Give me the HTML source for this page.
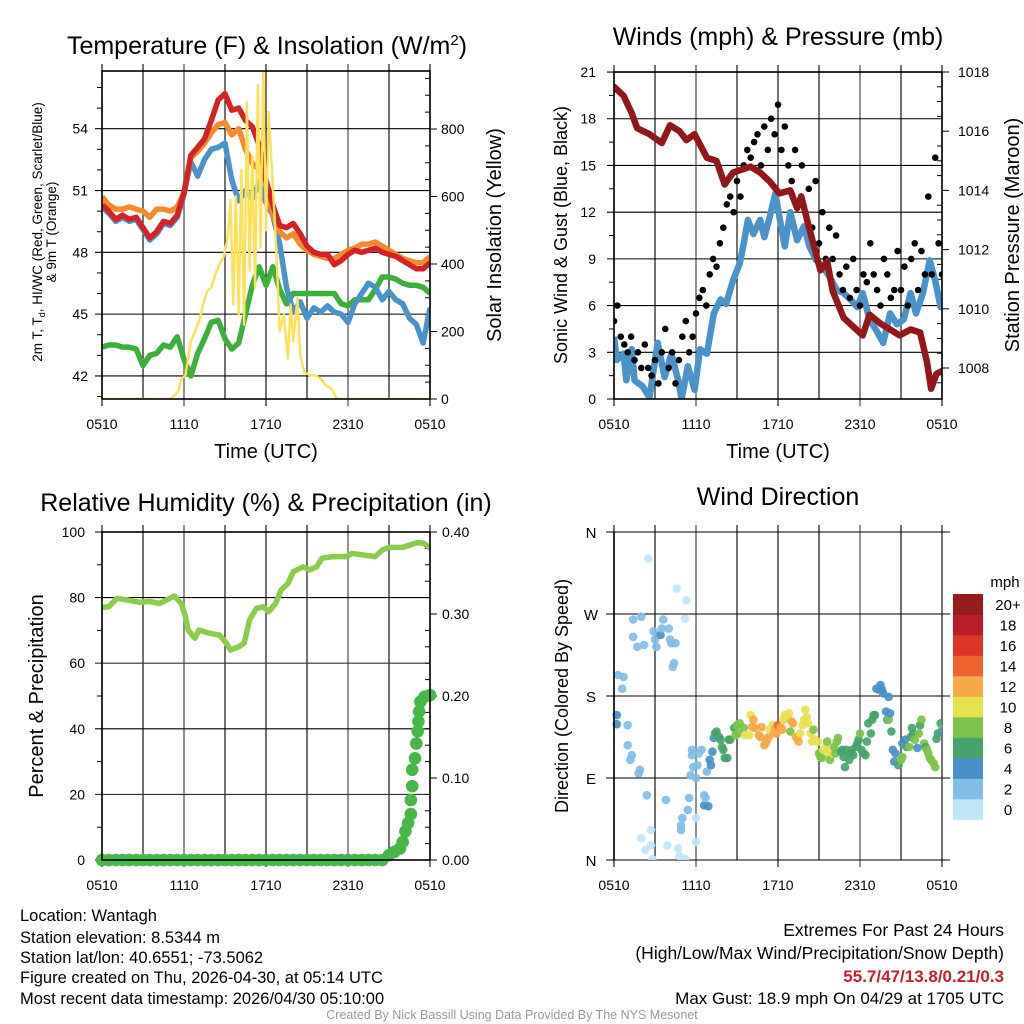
<!DOCTYPE html>
<html><head><meta charset="utf-8"><title>Weather station summary</title>
<style>
html,body{margin:0;padding:0;background:#fff;}
svg{display:block;font-family:"Liberation Sans",Arial,sans-serif;}
</style></head>
<body>
<svg id="fig" width="1024" height="1024" viewBox="0 0 1024 1024" xmlns="http://www.w3.org/2000/svg">
<defs>
<clipPath id="c1"><rect x="102" y="71" width="328" height="328"/></clipPath>
<clipPath id="c2"><rect x="614" y="72" width="328" height="327"/></clipPath>
<clipPath id="c3"><rect x="102" y="532" width="328" height="328"/></clipPath>
<clipPath id="c4"><rect x="612" y="532" width="330" height="328"/></clipPath>
</defs>
<g id="p1"></g>
<g id="p2"></g>
<g id="p3"></g>
<g id="p4"></g>
<g id="txt">
<text x="267" y="54" font-size="25" text-anchor="middle">Temperature (F) &amp; Insolation (W/m<tspan dy="-9" font-size="15">2</tspan><tspan dy="9">)</tspan></text>
<text x="778" y="45" font-size="25" text-anchor="middle">Winds (mph) &amp; Pressure (mb)</text>
<text x="266" y="511" font-size="25" text-anchor="middle">Relative Humidity (%) &amp; Precipitation (in)</text>
<text x="778" y="505" font-size="25" text-anchor="middle">Wind Direction</text>
<text x="266" y="458" font-size="20" text-anchor="middle">Time (UTC)</text>
<text x="778" y="458" font-size="20" text-anchor="middle">Time (UTC)</text>
<text transform="translate(42,232) rotate(-90)" font-size="13.5" text-anchor="middle">2m T, T<tspan dy="3" font-size="9">d</tspan><tspan dy="-3">, HI/WC (Red, Green, Scarlet/Blue)</tspan></text>
<text transform="translate(56,232) rotate(-90)" font-size="13.5" text-anchor="middle">&amp; 9m T (Orange)</text>
<text transform="translate(501,235) rotate(-90)" font-size="20" text-anchor="middle">Solar Insolation (Yellow)</text>
<text transform="translate(567,235) rotate(-90)" font-size="18" text-anchor="middle">Sonic Wind &amp; Gust (Blue, Black)</text>
<text transform="translate(1019,235) rotate(-90)" font-size="20" text-anchor="middle">Station Pressure (Maroon)</text>
<text transform="translate(43,696) rotate(-90)" font-size="20" text-anchor="middle">Percent &amp; Precipitation</text>
<text transform="translate(568,696) rotate(-90)" font-size="18" text-anchor="middle">Direction (Colored By Speed)</text>
<text x="20" y="921" font-size="16.5">Location: Wantagh</text>
<text x="20" y="943" font-size="16.5">Station elevation: 8.5344 m</text>
<text x="20" y="963" font-size="16.5">Station lat/lon: 40.6551; -73.5062</text>
<text x="20" y="983" font-size="16.5">Figure created on Thu, 2026-04-30, at 05:14 UTC</text>
<text x="20" y="1004" font-size="16.5">Most recent data timestamp: 2026/04/30 05:10:00</text>
<text x="1004" y="936" font-size="17.5" text-anchor="end">Extremes For Past 24 Hours</text>
<text x="1004" y="959" font-size="17.5" text-anchor="end">(High/Low/Max Wind/Precipitation/Snow Depth)</text>
<text x="1004" y="982" font-size="17" font-weight="bold" fill="#c8202a" text-anchor="end">55.7/47/13.8/0.21/0.3</text>
<text x="1004" y="1004" font-size="17" text-anchor="end">Max Gust: 18.9 mph On 04/29 at 1705 UTC</text>
<text x="512" y="1019" font-size="12.5" fill="#999" text-anchor="middle">Created By Nick Bassill Using Data Provided By The NYS Mesonet</text>
</g>
</svg>
<script>
// ---------- data ----------
const xTickLabels = ["0510","1110","1710","2310","0510"];
const tempHours = [0,0.5,1,1.5,2,2.5,3,3.5,4,4.5,5,5.5,6,6.5,7,7.5,8,8.5,9,9.5,10,10.5,11,11.5,12,12.5,13,13.5,14,14.5,15,15.5,16,16.5,17,17.5,18,18.5,19,19.5,20,20.5,21,21.5,22,22.5,23,23.5,24];
const tempRed = [50.3,50.0,49.6,49.8,49.6,49.7,49.2,48.7,49.0,49.5,49.4,49.8,50.9,52.7,53.1,53.5,54.4,55.4,55.7,54.9,55.0,54.4,54.1,53.2,51.5,50.3,49.3,49.2,49.4,48.9,48.3,48.0,47.9,47.9,47.4,47.6,47.9,48.1,48.0,48.1,48.2,48.0,47.9,47.8,47.6,47.4,47.2,47.2,47.5];
const temp9m = [50.7,50.3,50.1,50.1,50.2,50.1,50.0,49.7,50.1,50.1,50.0,50.2,50.9,52.6,52.9,53.3,53.8,54.2,54.3,53.7,54.0,53.0,52.3,52.0,51.3,49.8,49.0,48.7,48.9,48.4,48.1,47.9,47.8,47.7,47.7,47.9,48.1,48.2,48.4,48.4,48.5,48.3,48.1,47.9,47.7,47.6,47.5,47.5,47.8];
const tempHiWc = [50.2,49.9,49.5,49.7,49.5,49.6,49.1,48.6,48.9,49.4,49.3,49.7,50.8,52.4,51.7,52.5,53.0,53.1,53.3,51.5,50.5,51.0,50.6,51.4,50.4,49.8,48.4,46.3,45.1,45.6,44.8,45.3,45.1,45.4,45.1,45.0,44.6,45.5,46.0,46.5,46.3,45.7,46.1,45.7,45.5,44.8,44.5,43.6,45.3];
const dewpoint = [43.4,43.5,43.5,43.4,43.4,43.3,42.5,43.0,43.1,43.5,43.4,43.9,42.8,42.0,43.1,43.8,44.6,44.7,43.8,43.3,43.6,45.0,46.4,47.3,46.4,47.3,46.2,45.5,46.0,46.0,46.0,46.0,46.0,46.0,46.0,45.5,45.4,45.7,45.7,45.7,46.2,46.8,46.8,46.7,46.5,46.4,46.4,46.3,46.0];
const solarHours = [0,5.0,5.3,5.6,5.8,6.1,6.3,6.5,6.8,7.1,7.4,7.7,8.0,8.3,8.6,8.9,9.2,9.4,9.6,9.8,10.0,10.2,10.4,10.6,10.8,11.0,11.2,11.4,11.6,11.8,12.0,12.2,12.4,12.6,12.8,13.0,13.3,13.6,13.8,14.0,14.3,14.5,14.8,15.2,15.6,16.0,16.4,16.8,17.2,24];
const solar = [0,0,10,25,60,70,120,170,200,230,280,320,330,370,400,420,480,590,280,600,250,680,220,880,380,720,330,930,450,990,500,850,700,560,400,200,250,120,280,170,300,130,80,70,70,60,40,30,0,0];
const tempTicks = [42,45,48,51,54];
const solarTicks = [0,200,400,600,800];

const windHours = [0,0.2,0.7,0.9,1.3,1.5,2.1,2.6,3.2,3.7,4.2,4.7,4.95,5.4,5.9,6.3,6.8,7.3,7.8,8.2,8.7,9.2,9.5,9.8,10.2,10.7,11.0,11.4,11.8,12.1,12.5,12.9,13.4,13.9,14.3,14.8,15.3,15.8,16.3,16.8,17.3,17.8,18.2,18.7,19.2,19.7,20.2,20.7,21.2,21.7,22.1,22.6,23.1,23.5,23.9,24];
const windSpeed = [4.0,2.5,2.9,1.2,3.2,1.2,0.8,0.1,3.6,1.4,2.9,1.2,0,2.1,0.6,3.2,2.9,5.5,6.4,6.1,7.6,8.7,10.0,11.5,10.6,11.5,10.4,11.7,13.2,11.7,9.8,12.0,10.2,11.1,9.8,8.9,8.5,7.8,7.0,6.8,6.4,5.9,6.8,5.1,4.4,3.6,5.5,4.8,5.1,6.8,5.5,6.8,8.9,7.6,5.9,6.0];
const gustStep = 0.25;
const gusts = [5,6,4,3.5, 3,4,2.5,3, 2,3.5,2,1.5, 2.5,1,3,4.5, 2,3,1,2.5, 4,5,3,4, 5.5,6.5,7,6, 8,9,8.5,10, 11,12.5,13,12, 14,13,15,16, 15.5,16.5,17,15, 17.5,16,18,17, 18.9,16,17.5,15, 14,16,12.5,15, 12,13.5,11,14, 10,12,9,11, 9,10.5,8,7, 8.5,6.5,9,7, 6,8,7.5,10, 8,7,6,9, 8,6.5,7,9.5, 7,8.5,6,9, 10,7,9.5,8, 13,8,15.5,10, 8];
const pressHours = [0,0.7,1.3,1.7,2.6,3.5,4.1,4.8,5.3,5.9,6.8,7.5,8.1,8.7,10.0,10.7,11.4,12.1,12.9,13.4,13.7,14.3,15.1,15.6,16.0,16.8,17.5,18.2,18.7,19.5,20.2,20.9,21.7,22.4,22.9,23.2,23.6,24];
const pressure = [1017.5,1017.2,1016.6,1016.1,1015.9,1015.6,1016.2,1016.0,1015.7,1015.9,1015.1,1015.0,1014.2,1014.6,1014.8,1014.6,1014.3,1013.9,1014.0,1013.4,1013.8,1012.7,1011.3,1011.6,1010.6,1009.7,1009.4,1009.1,1009.8,1009.5,1009.3,1009.1,1009.3,1009.2,1008.2,1007.3,1007.8,1007.9];
const windTicks = [0,3,6,9,12,15,18,21];
const pressTicks = [1008,1010,1012,1014,1016,1018];

const rhHours = [0,0.5,1.1,1.8,2.7,3.5,4.2,5.3,5.8,6.1,6.3,6.8,7.1,7.9,8.6,9.1,9.4,10.0,10.4,10.8,11.3,11.8,12.2,12.7,13.1,13.6,14.0,14.7,15.2,15.7,16.1,16.9,17.9,18.3,19.1,20.0,20.5,21.0,22.0,22.5,23.1,23.6,24.0];
const rh = [77.0,77.2,79.8,79.3,78.6,78.8,78.2,80.5,78.2,74.2,70.1,67.6,70.1,69.1,68.6,66.1,64.0,65.0,66.1,73.2,76.7,77.2,75.7,78.2,82.3,84.3,87.9,89.4,88.4,89.4,92.0,92.5,92.5,93.5,93.0,92.5,94.5,95.3,95.3,96.0,96.8,96.5,95.0];
const precipHours = [0,0.5,1,1.5,2,2.5,3,3.5,4,4.5,5,5.5,6,6.5,7,7.5,8,8.5,9,9.5,10,10.5,11,11.5,12,12.5,13,13.5,14,14.5,15,15.5,16,16.5,17,17.5,18,18.5,19,19.5,20,20.5,21.0,21.4,21.8,22.0,22.2,22.4,22.6,22.6,22.7,22.7,22.9,23.0,23.1,23.15,23.2,23.3,23.6,24.0];
const precip = [0,0,0,0,0,0,0,0,0,0,0,0,0,0,0,0,0,0,0,0,0,0,0,0,0,0,0,0,0,0,0,0,0,0,0,0,0,0,0,0,0,0,0.006,0.01,0.014,0.022,0.035,0.045,0.056,0.073,0.09,0.11,0.124,0.142,0.157,0.169,0.181,0.193,0.199,0.201];
const rhTicks = [0,20,40,60,80,100];
const precipTicks = ["0.00","0.10","0.20","0.30","0.40"];

const dirHours = [0.2,0.2,0.3,0.7,0.6,1.0,1.0,1.2,1.3,1.4,1.4,1.7,1.9,1.8,2.0,2.2,2.4,2.5,2.0,2.3,2.7,2.7,2.8,2.9,3.0,3.1,3.4,3.5,3.6,3.8,3.9,4.0,4.1,4.2,4.4,4.3,4.5,4.6,4.7,4.8,4.9,4.9,5.0,5.2,5.2,5.3,5.4,5.5,5.6,5.7,5.7,5.8,6.0,6.0,6.0,6.1,6.2,6.4,6.6,6.6,6.7,6.8,6.9,7.0,7.1,7.2,7.3,7.4,7.5,7.7,7.8,7.9,8.0,8.1,8.3,8.4,8.5,8.8,8.9,9.0,9.1,9.2,9.5,9.6,9.9,10.0,10.1,10.2,10.3,10.6,10.7,10.8,11.0,11.1,11.2,11.3,11.4,11.6,11.7,11.8,11.9,12.0,12.2,12.3,12.4,12.5,12.7,12.8,12.9,13.0,13.1,13.3,13.4,13.5,13.6,13.8,13.9,14.0,14.1,14.2,14.4,14.5,14.6,14.7,14.9,15.0,15.1,15.2,15.3,15.5,15.6,15.7,15.8,16.0,16.1,16.2,16.3,16.4,16.6,16.7,16.8,16.9,17.0,17.2,17.3,17.4,17.5,17.7,17.8,17.9,18.0,18.1,18.3,18.4,18.5,18.6,18.8,18.9,19.0,19.1,19.2,19.4,19.5,19.6,19.7,19.9,20.0,20.1,20.1,20.2,20.3,20.4,20.5,20.6,20.8,21.0,21.1,21.1,21.3,21.4,21.6,21.7,21.8,21.9,22.0,22.2,22.3,22.4,22.5,22.7,22.8,22.9,23.0,23.1,23.2,23.4,23.5,23.6,23.7,23.9,24.0,24.0];
const dirDegrees = [159,149,203,201,188,148,126,110,115,264,245,234,99,95,267,236,71,331,24,11,16,33,1,251,242,234,247,254,264,66,16,254,242,238,216,212,238,298,13,4,38,33,46,1,265,285,55,68,93,115,121,102,90,46,20,104,117,121,71,60,68,97,59,110,104,119,134,139,141,135,132,124,121,112,112,132,132,145,137,148,139,150,145,137,137,159,146,154,145,137,135,146,126,128,132,135,143,148,139,145,139,148,146,143,154,159,156,161,141,152,150,135,134,130,139,148,154,165,157,150,139,130,143,132,130,117,113,112,121,124,130,117,110,117,124,117,130,134,119,121,113,102,121,110,117,121,115,124,128,132,139,121,117,115,130,150,139,154,159,159,188,187,192,187,183,163,154,154,179,161,141,121,108,117,104,110,113,128,132,124,124,135,145,139,132,123,139,148,154,128,124,121,117,112,110,106,102,133,139,150,143,141];
const dirSpeeds = [4,4,2,2,2,2,1,2,1,2,2,1,2,1,2,1,1,0,0,0,0,0,0,2,2,2,3,2,2,1,0,1,2,2,2,2,1,0,0,0,1,2,2,0,0,0,2,2,2,2,2,2,1,0,0,2,2,2,1,3,2,2,3,3,4,4,4,6,6,5,5,6,6,6,6,6,6,6,8,8,8,8,8,10,10,10,12,12,12,12,12,12,12,12,12,12,10,10,12,11,12,14,12,12,10,10,10,10,7,12,12,12,12,11,10,10,10,10,10,10,10,10,7,10,10,8,7,8,10,10,8,10,8,10,8,7,8,8,6,6,6,6,6,6,6,5,6,6,6,6,8,6,6,6,5,6,6,6,6,6,4,4,4,4,4,4,4,7,4,4,6,4,4,4,6,8,8,4,4,6,7,6,6,6,8,4,8,6,8,8,6,7,8,8,8,8,8,6,6,6,7,4];
const dirTickLabels = ["N","E","S","W","N"];
const speedBinLabels = ["0","2","4","6","8","10","12","14","16","18","20+"];
const speedBinColors = ["#bfe6f7","#82bde6","#4a90c8","#47a36b","#7dc24b","#e6e150","#f5a947","#ee6430","#dd3529","#bc1e27","#951b1e"];

// ---------- helpers ----------
const NS = "http://www.w3.org/2000/svg";
function mk(parent, tag, attrs, name){
  const e = document.createElementNS(NS, tag);
  for (const k in attrs) e.setAttribute(k, attrs[k]);
  
  
  parent.appendChild(e);
  return e;
}
function txt(parent, x, y, s, size, anchor, name){
  const t = mk(parent, 'text', {x:x, y:y, 'font-size':size, 'text-anchor':anchor}, name);
  t.textContent = s;
  return t;
}
function pathOf(xs, ys, fx, fy){
  return xs.map((h,i)=>(i?'L':'M')+fx(h).toFixed(1)+','+fy(ys[i]).toFixed(1)).join('');
}
function frame(g, L, T, R, B, xs, name){
  for (let h=0; h<=24; h+=3){
    const x = xs(h);
    const major = h%6===0;
    mk(g,'line',{x1:x,x2:x,y1:T-7,y2:B+(major?7:0),stroke: (h%12===6)?'#777':'#000','stroke-width':(h%12===6)?1.6:1.1}, name+'-vgrid');
  }
  xTickLabels.forEach((s,i)=>{ txt(g, xs(i*6), B+30, s, 14, 'middle', name+'-x-tick-label'); });
}

// ---------- panel 1 ----------
(function(){
  const g = document.getElementById('p1');
  const L=102,R=430,T=71,B=399;
  const x = h => L + h*(R-L)/24;
  const yT = f => 399 - (f-40.88)*20.6;
  const yS = w => 399 - w*0.3375;
  frame(g,L,T,R,B,x,'temp');
  tempTicks.forEach(v=>{
    const y=yT(v);
    mk(g,'line',{x1:L-7,x2:R,y1:y,y2:y,stroke:'#000','stroke-width':1.1},'temp-hgrid');
    txt(g, L-14, y+5, String(v), 14, 'end', 'temp-y-tick-label');
  });
  for (let v=41; v<=56; v++){ if(tempTicks.indexOf(v)<0){ const y=yT(v); mk(g,'line',{x1:L-5,x2:L,y1:y,y2:y,stroke:'#000','stroke-width':1},'temp-minor-tick'); } }
  for (let w=0; w<=950; w+=50){ const y=yS(w); const maj = solarTicks.indexOf(w)>=0; mk(g,'line',{x1:R-(maj?0:5),x2:R+(maj?7:0),y1:y,y2:y,stroke:'#000','stroke-width':1},'solar-tick'); }
  solarTicks.forEach(v=>{ txt(g, R+11, yS(v)+5, String(v), 14, 'start', 'solar-y-tick-label'); });
  const c = mk(g,'g',{'clip-path':'url(#c1)'},'temp-series');
  mk(c,'path',{d:pathOf(tempHours,dewpoint,x,yT),fill:'none',stroke:'#3eae3c','stroke-width':5.5,'stroke-linejoin':'round'},'dewpoint-line');
  mk(c,'path',{d:pathOf(tempHours,tempHiWc,x,yT),fill:'none',stroke:'#4b92c9','stroke-width':5.5,'stroke-linejoin':'round'},'heat-index-line');
  mk(c,'path',{d:pathOf(tempHours,temp9m,x,yT),fill:'none',stroke:'#f48a2c','stroke-width':5.5,'stroke-linejoin':'round'},'temp-9m-line');
  mk(c,'path',{d:pathOf(tempHours,tempRed,x,yT),fill:'none',stroke:'#d42327','stroke-width':5.5,'stroke-linejoin':'round'},'temp-2m-line');
  mk(c,'path',{d:pathOf(solarHours,solar,x,yS),fill:'none',stroke:'#fbe05a','stroke-width':2.4,'stroke-linejoin':'round'},'solar-line');
  mk(g,'rect',{x:L,y:T,width:R-L,height:B-T,fill:'none',stroke:'#000','stroke-width':1.6},'temp-plot-frame');
})();

// ---------- panel 2 ----------
(function(){
  const g = document.getElementById('p2');
  const L=614,R=942,T=72,B=399;
  const x = h => L + h*(R-L)/24;
  const yW = v => 399 - v*15.57;
  const yP = p => 368 - (p-1008)*29.6;
  frame(g,L,T,R,B,x,'winds');
  windTicks.forEach(v=>{
    const y=yW(v);
    mk(g,'line',{x1:L-7,x2:R,y1:y,y2:y,stroke:'#000','stroke-width':1.1},'wind-hgrid');
    txt(g, L-18, y+5, String(v), 14, 'end', 'wind-y-tick-label');
  });
  for (let v=1.5; v<21; v+=3){ const y=yW(v); mk(g,'line',{x1:L-5,x2:L,y1:y,y2:y,stroke:'#000','stroke-width':1},'wind-minor-tick'); }
  for (let p=1007.5; p<=1018; p+=0.5){ const y=yP(p); const maj = Math.abs(p%2)<0.01; mk(g,'line',{x1:R-(maj?0:5),x2:R+(maj?7:0),y1:y,y2:y,stroke:'#000','stroke-width':1},'pressure-tick'); }
  pressTicks.forEach(v=>{ txt(g, R+16, yP(v)+5, String(v), 14, 'start', 'pressure-y-tick-label'); });
  const c = mk(g,'g',{'clip-path':'url(#c2)'},'winds-series');
  mk(c,'path',{d:pathOf(windHours,windSpeed,x,yW),fill:'none',stroke:'#4b92c9','stroke-width':6.5,'stroke-linejoin':'round'},'sonic-wind-line');
  gusts.forEach((v,i)=>{
    mk(c,'circle',{cx:x(i*gustStep).toFixed(1),cy:yW(v).toFixed(1),r:3.3,fill:'#000'},'gust-point');
  });
  mk(c,'path',{d:pathOf(pressHours,pressure,x,yP),fill:'none',stroke:'#92171b','stroke-width':6.5,'stroke-linejoin':'round','stroke-linecap':'round'},'pressure-line');
  mk(g,'rect',{x:L,y:T,width:R-L,height:B-T,fill:'none',stroke:'#000','stroke-width':1.6},'winds-plot-frame');
})();

// ---------- panel 3 ----------
(function(){
  const g = document.getElementById('p3');
  const L=102,R=430,T=532,B=860;
  const x = h => L + h*(R-L)/24;
  const yR = v => 860 - v*3.28;
  const yP = p => 860 - p*820;
  frame(g,L,T,R,B,x,'rh');
  rhTicks.forEach(v=>{
    const y=yR(v);
    mk(g,'line',{x1:L-7,x2:R,y1:y,y2:y,stroke:(v===20||v===60)?'#333':'#000','stroke-width':1.1},'rh-hgrid');
    txt(g, L-17, y+5, String(v), 14, 'end', 'rh-y-tick-label');
  });
  for (let v=10; v<100; v+=20){ const y=yR(v); mk(g,'line',{x1:L-5,x2:L,y1:y,y2:y,stroke:'#000','stroke-width':1},'rh-minor-tick'); }
  for (let p=0; p<=0.4001; p+=0.02){ const y=yP(p); const maj = Math.round(p*50)%5===0; mk(g,'line',{x1:R-(maj?0:5),x2:R+(maj?7:0),y1:y,y2:y,stroke:'#000','stroke-width':1},'precip-tick'); }
  precipTicks.forEach(s=>{ txt(g, R+12, yP(parseFloat(s))+5, s, 14, 'start', 'precip-y-tick-label'); });
  const c = mk(g,'g',{'clip-path':'url(#c3)'},'rh-series');
  mk(c,'path',{d:pathOf(rhHours,rh,x,yR),fill:'none',stroke:'#8dcb4f','stroke-width':5.5,'stroke-linejoin':'round'},'rh-line');
  precip.forEach((v,i)=>{
    mk(g,'circle',{cx:x(precipHours[i]).toFixed(1),cy:yP(v).toFixed(1),r:6.3,fill:'#48b648'},'precip-point');
  });
  mk(g,'rect',{x:L,y:T,width:R-L,height:B-T,fill:'none',stroke:'#000','stroke-width':1.6},'rh-plot-frame');
})();

// ---------- panel 4 ----------
(function(){
  const g = document.getElementById('p4');
  const L=614,R=942,T=532,B=860;
  const x = h => L + h*(R-L)/24;
  const y = d => 860 - d*(328/360);
  frame(g,L,T,R,B,x,'dir');
  dirTickLabels.forEach((s,i)=>{
    const yy = y(i*90);
    mk(g,'line',{x1:L-8,x2:R+8,y1:yy,y2:yy,stroke:'#000','stroke-width':1.1},'direction-hgrid');
    txt(g, 591, yy+6, s, 15, 'middle', 'direction-y-tick-label');
  });
  const c = mk(g,'g',{'clip-path':'url(#c4)'},'direction-points');
  dirHours.forEach((h,i)=>{
    const bin = Math.min(10, Math.floor((dirSpeeds[i]+1)/2));
    mk(c,'circle',{cx:x(h).toFixed(1),cy:y(dirDegrees[i]).toFixed(1),r:4.3,fill:speedBinColors[bin],'fill-opacity':0.92},'direction-point');
  });
  mk(g,'line',{x1:L,x2:L,y1:T,y2:B,stroke:'#000','stroke-width':1.6},'dir-left-axis');
  const lg = mk(g,'g',{},'speed-legend');
  txt(lg, 1005, 587, 'mph', 15, 'middle', 'legend-title');
  speedBinColors.forEach((col,i)=>{
    const top = 594 + (10-i)*20.5;
    mk(lg,'rect',{x:953,y:top.toFixed(1),width:30,height:20.8,fill:col},'legend-swatch');
    txt(lg, 1008, top+16, speedBinLabels[i], 15, 'middle', 'legend-label');
  });
})();
</script>
</body></html>
